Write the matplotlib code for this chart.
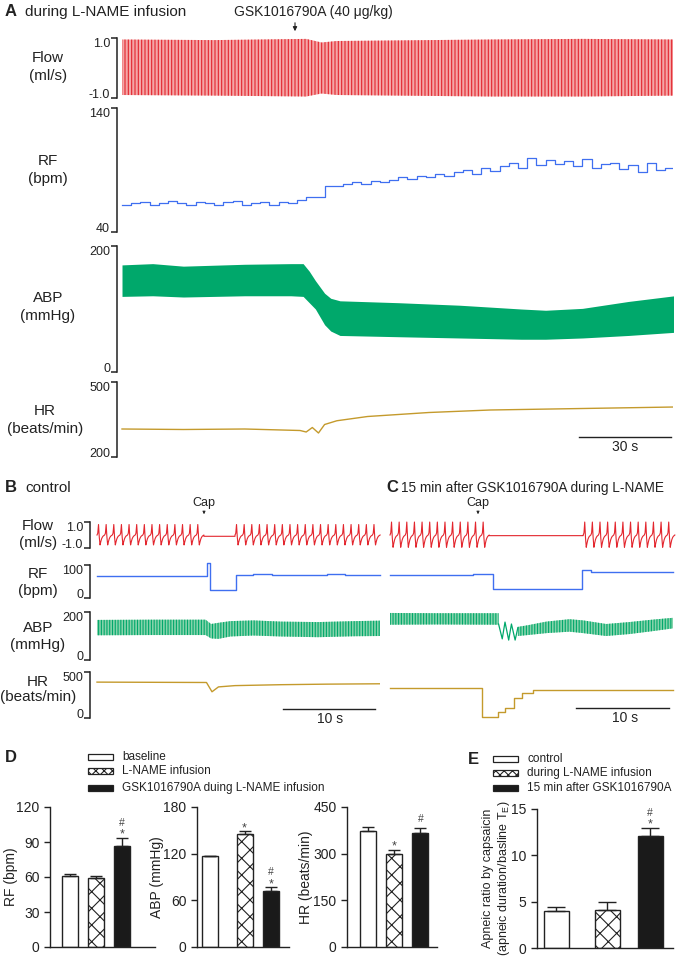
import numpy as np
import matplotlib
matplotlib.use("Agg")
import matplotlib.pyplot as plt
from matplotlib.patches import Rectangle

plt.rcParams['font.family'] = ['Liberation Sans', 'DejaVu Sans']
plt.rcParams['hatch.linewidth'] = 0.8

W, H = 680, 964

# ---------------- panel A (time in s) ----------------
flow_a_t = [0, 30, 60, 65, 70, 90, 120, 150, 180]
flow_a_up = [0.95, 0.93, 0.97, 0.85, 0.90, 0.92, 0.95, 0.97, 0.95]
flow_a_lo = [-0.90, -0.92, -0.95, -0.85, -0.90, -0.92, -0.95, -0.95, -0.92]

rf_a_v = [62, 63, 64, 62, 63, 65, 63, 62, 64, 63, 62, 64, 65, 62, 63, 64, 62, 64, 63,
          66, 68, 68, 77, 77,
          79, 80, 79, 81, 80, 82,
          84, 83, 85, 84, 87, 85,
          88, 90, 87, 92, 89, 93,
          96, 92, 100, 94, 98, 95,
          97, 93, 99, 92, 95, 96,
          91, 94, 88, 96, 90, 92]
rf_a_step = 3.0

abp_a_t = [0, 10, 20, 40, 55, 59, 61, 63, 66, 68, 71, 90, 110, 130, 138, 150, 165, 180]
abp_a_up = [170, 172, 168, 171, 172, 172, 160, 145, 125, 117, 113, 110, 106, 100, 98, 101, 112, 121]
abp_a_lo = [120, 121, 119, 121, 121, 120, 110, 100, 75, 65, 58, 56, 54, 52, 52, 54, 58, 63]

hr_a_t = [0, 20, 40, 58, 60, 62, 64, 66, 70, 80, 100, 120, 140, 160, 180]
hr_a_v = [312, 310, 312, 306, 300, 318, 296, 330, 345, 362, 378, 388, 392, 396, 400]

# ---------------- panels B / C ----------------
flow_cycle = [0.0, 0.15, 0.95, -0.2, -0.9, -0.6, -0.35, -0.2, -0.1, -0.05, 0.0]
flow_b_segments = [(0.0, 12.0), (15.0, 30.8)]
flow_b_period, flow_b_amp, flow_b_apnea = 0.83, 0.85, -0.1
flow_c_segments = [(0.0, 11.2), (21.0, 30.8)]
flow_c_period, flow_c_amp, flow_c_apnea = 0.83, 1.05, -0.05

rf_b_t = [0, 2, 4, 6, 8, 10, 12.0, 12.25, 15.1, 17, 19, 21, 23, 25, 27, 29, 30.8]
rf_b_v = [66, 67, 68, 67, 66, 68, 105, 24, 70, 72, 70, 71, 70, 72, 71, 70, 70]
rf_c_t = [0, 3, 6, 9, 11.2, 20.9, 21.8, 24, 27, 30.8]
rf_c_v = [70, 71, 70, 72, 27, 86, 80, 79, 80, 80]

abp_b_t = [0, 6, 11.8, 12.4, 13.2, 14.5, 17, 20, 24, 28, 30.8]
abp_b_up = [167, 168, 168, 150, 155, 162, 165, 160, 158, 162, 164]
abp_b_lo = [103, 104, 104, 90, 88, 98, 102, 98, 95, 99, 100]
abp_c_t1 = [0, 5, 11.8]
abp_c_up1 = [196, 195, 195]
abp_c_lo1 = [147, 148, 147]
abp_c_osc_t = [11.8, 12.2, 12.5, 12.9, 13.2, 13.6, 13.9]
abp_c_osc_v = [150, 88, 158, 83, 150, 83, 135]
abp_c_t2 = [13.9, 15, 17, 19.5, 21, 23.5, 26, 28.5, 30.8]
abp_c_up2 = [138, 145, 160, 170, 165, 150, 158, 168, 176]
abp_c_lo2 = [100, 104, 112, 118, 112, 100, 108, 120, 132]

hr_b_t = [0, 6, 11.9, 12.5, 13.2, 15, 20, 25, 30.8]
hr_b_v = [390, 388, 386, 285, 338, 352, 362, 368, 372]
hr_c_t = [0, 3, 6, 9, 10.0, 11.7, 12.5, 13.5, 14.3, 15.5, 20, 25, 30.8]
hr_c_v = [326, 330, 324, 328, 10, 65, 109, 217, 272, 300, 305, 302, 306]

# ---------------- panels D / E ----------------
groups_d = ['baseline', 'L-NAME infusion', 'GSK1016790A duing L-NAME infusion']
groups_e = ['control', 'during L-NAME infusion', '15 min after GSK1016790A']
rf_mean, rf_err = [61, 59.5, 87], [1.5, 1.5, 6.5]
abp_mean, abp_err = [116.5, 145.5, 72.5], [0.8, 3.5, 4.5]
hr_mean, hr_err = [374, 300, 367], [12, 12, 15]
apnea_mean, apnea_err = [4.0, 4.15, 12.1], [0.4, 0.8, 0.9]
rf_marks = ['', '', '#*']
abp_marks = ['', '*', '#*']
hr_marks = ['', '*', '#']
apnea_marks = ['', '', '#*']

RED, RED_L = '#e3262e', '#f4a6a6'
BLUE = '#3f6ff0'
GREEN, GREEN_L = '#00a86b', '#86d3ab'
GOLD = '#c49a2c'
INK = '#222222'

fig = plt.figure(figsize=(W / 100, H / 100), dpi=100)


def add_ax(x0, y0, x1, y1):
    return fig.add_axes([x0 / W, 1 - y1 / H, (x1 - x0) / W, (y1 - y0) / H])


def trace_style(ax, lo, hi, labels, xlim, fs=9):
    for s in ['top', 'right', 'bottom']:
        ax.spines[s].set_visible(False)
    ax.spines['left'].set_linewidth(1.1)
    ax.spines['left'].set_color(INK)
    ax.set_ylim(lo, hi)
    ax.set_yticks([lo, hi])
    ax.set_yticklabels(labels, fontsize=fs)
    tl = ax.get_yticklabels()
    tl[0].set_va('baseline')
    tl[1].set_va('top')
    ax.tick_params(axis='y', direction='out', length=4, width=1.1, pad=1, colors=INK)
    ax.set_xticks([])
    ax.set_xlim(*xlim)
    ax.patch.set_visible(False)


def blank_style(ax, lo, hi, xlim):
    ax.axis('off')
    ax.set_ylim(lo, hi)
    ax.set_xlim(*xlim)


def breath_train(segments, period, amp, apnea):
    ts, vs = [], []
    cyc = np.array(flow_cycle) * amp
    ph = np.linspace(0, 1, len(cyc))
    for k, (a, b) in enumerate(segments):
        starts = np.arange(a, b - period * 0.5, period)
        for s in starts:
            ts.extend(s + ph * period)
            vs.extend(cyc)
        if k < len(segments) - 1:
            ts.extend([starts[-1] + period, segments[k + 1][0]])
            vs.extend([apnea, apnea])
    return ts, vs


# ---------------- panel A ----------------
xa = (-1.63, 179.5)
ax = add_ax(117, 38, 673, 98)
trace_style(ax, -1.0, 1.0, ['-1.0', '1.0'], xa)
ax.fill_between(flow_a_t, flow_a_lo, flow_a_up, facecolor=RED_L, edgecolor=RED,
                hatch='|||||', linewidth=0)

ax = add_ax(117, 108, 673, 232)
trace_style(ax, 40, 140, ['40', '140'], xa)
rf_t = np.arange(len(rf_a_v) + 1) * rf_a_step
ax.step(rf_t, rf_a_v + [rf_a_v[-1]], where='post', color=BLUE, lw=0.9)

ax = add_ax(117, 246, 673, 372)
trace_style(ax, 0, 200, ['0', '200'], xa)
ax.fill_between(abp_a_t, abp_a_lo, abp_a_up, color=GREEN, linewidth=0)

ax = add_ax(117, 382, 673, 457)
trace_style(ax, 200, 500, ['200', '500'], xa)
ax.plot(hr_a_t, hr_a_v, color=GOLD, lw=1.0)

# ---------------- panels B / C ----------------
xb = (-0.76, 30.76)
xc = (0, 30.76)
rows = [(522, 548, -1.0, 1.0, ['-1.0', '1.0']),
        (565, 598, 0, 100, ['0', '100']),
        (612, 660, 0, 200, ['0', '200']),
        (672, 718, 0, 500, ['0', '500'])]
axb, axc = [], []
for y0, y1, lo, hi, lab in rows:
    a = add_ax(90, y0, 380, y1)
    trace_style(a, lo, hi, lab, xb)
    axb.append(a)
    c = add_ax(390, y0, 673, y1)
    blank_style(c, lo, hi, xc)
    axc.append(c)

t, v = breath_train(flow_b_segments, flow_b_period, flow_b_amp, flow_b_apnea)
axb[0].plot(t, v, color=RED, lw=0.8, clip_on=False)
t, v = breath_train(flow_c_segments, flow_c_period, flow_c_amp, flow_c_apnea)
axc[0].plot(t, v, color=RED, lw=0.8, clip_on=False)

axb[1].step(rf_b_t, rf_b_v, where='post', color=BLUE, lw=1.0, clip_on=False)
axc[1].step(rf_c_t, rf_c_v, where='post', color=BLUE, lw=1.0, clip_on=False)

axb[2].fill_between(abp_b_t, abp_b_lo, abp_b_up, facecolor=GREEN_L, edgecolor=GREEN,
                    hatch='||||||', linewidth=0)
axc[2].fill_between(abp_c_t1, abp_c_lo1, abp_c_up1, facecolor=GREEN_L, edgecolor=GREEN,
                    hatch='||||||', linewidth=0, clip_on=False)
axc[2].plot(abp_c_osc_t, abp_c_osc_v, color=GREEN, lw=0.9)
axc[2].fill_between(abp_c_t2, abp_c_lo2, abp_c_up2, facecolor=GREEN_L, edgecolor=GREEN,
                    hatch='||||||', linewidth=0)

axb[3].plot(hr_b_t, hr_b_v, color=GOLD, lw=1.0)
axc[3].step(hr_c_t, hr_c_v, where='post', color=GOLD, lw=1.0, clip_on=False)

# ---------------- panels D / E ----------------
def bar_panel(x0, y0, x1, y1, centers, width, means, errs, marks, ymax, ticks):
    a = add_ax(x0, y0, x1, y1)
    pos = [c - x0 for c in centers]
    styles = [dict(color='white', hatch=None), dict(color='white', hatch='xx'),
              dict(color='#1a1a1a', hatch=None)]
    for p, m, e, st in zip(pos, means, errs, styles):
        a.bar(p, m, width=width, facecolor=st['color'], edgecolor=INK, hatch=st['hatch'],
              linewidth=1.0, zorder=2)
        a.errorbar(p, m, yerr=[[0], [e]], color=INK, lw=1.0, capsize=width * 0.72 * 0.36,
                   capthick=1.0, zorder=3)
    for p, m, e, mk in zip(pos, means, errs, marks):
        if '*' in mk:
            a.annotate('*', (p, m + e), xytext=(0, 0), textcoords='offset pixels',
                       ha='center', va='baseline', fontsize=9, color='#444444')
        if '#' in mk:
            off = 12 if '*' in mk else 6
            a.annotate('#', (p, m + e), xytext=(0, off), textcoords='offset pixels',
                       ha='center', va='baseline', fontsize=7.5, color='#444444')
    a.set_xlim(0, x1 - x0)
    a.set_ylim(0, ymax)
    a.set_yticks(ticks)
    a.set_xticks([])
    for s in ['top', 'right']:
        a.spines[s].set_visible(False)
    for s in ['left', 'bottom']:
        a.spines[s].set_linewidth(1.0)
        a.spines[s].set_color(INK)
    a.tick_params(axis='y', direction='out', length=4, width=1.0, labelsize=10, colors=INK)
    a.patch.set_visible(False)
    return a


bar_panel(50, 807, 155, 947, [69.5, 95.5, 122], 16, rf_mean, rf_err, rf_marks,
          120, [0, 30, 60, 90, 120])
bar_panel(197, 807, 289, 947, [209.5, 244.5, 271], 16, abp_mean, abp_err, abp_marks,
          180, [0, 60, 120, 180])
bar_panel(347, 807, 437, 947, [368, 394, 420.5], 16, hr_mean, hr_err, hr_marks,
          450, [0, 150, 300, 450])
bar_panel(537, 809, 673, 948, [556, 607, 650], 25, apnea_mean, apnea_err, apnea_marks,
          15, [0, 5, 10, 15])

# ---------------- overlay: labels, scale bars, legends ----------------
ov = fig.add_axes([0, 0, 1, 1])
ov.set_xlim(0, W)
ov.set_ylim(H, 0)
ov.axis('off')
ov.patch.set_visible(False)

def label(x, y, s, size=11, **kw):
    ov.text(x, y, s, fontsize=size, ha=kw.pop('ha', 'center'), va=kw.pop('va', 'center'),
            color=kw.pop('color', INK), **kw)

def label2(x, y, top, bottom, size=11, gap=18):
    label(x, y - gap / 2, top, size)
    label(x, y + gap / 2, bottom, size)

label(5, 12, 'A', 12, ha='left', weight='bold')
label(25, 12, 'during L-NAME infusion', 11, ha='left')
label(313, 12, 'GSK1016790A (40 \u03bcg/kg)', 10)
ov.annotate('', xy=(295, 34), xytext=(295, 20),
            arrowprops=dict(arrowstyle='-|>', lw=0.8, color=INK, mutation_scale=6))

label2(48, 67, 'Flow', '(ml/s)')
label2(48, 170, 'RF', '(bpm)')
label2(48, 307, 'ABP', '(mmHg)')
label2(45, 420, 'HR', '(beats/min)')

ov.plot([579, 671], [437, 437], color=INK, lw=1.0)
label(625, 447, '30 s', 10)

label(5, 488, 'B', 12, ha='left', weight='bold')
label(25, 488, 'control', 11, ha='left')
label(386, 488, 'C', 12, ha='left', weight='bold')
label(401, 488, '15 min after GSK1016790A during L-NAME', 9.8, ha='left')

for cx in (204, 478):
    label(cx, 503, 'Cap', 9)
    ov.annotate('', xy=(cx, 517), xytext=(cx, 509),
                arrowprops=dict(arrowstyle='-|>', lw=0.6, color=INK, mutation_scale=4))

label2(38, 535, 'Flow', '(ml/s)', gap=17)
label2(38, 582, 'RF', '(bpm)', gap=17)
label2(38, 636, 'ABP', '(mmHg)', gap=17)
label2(38, 690, 'HR', '(beats/min)', gap=15)

ov.plot([283, 375], [709, 709], color=INK, lw=1.0)
label(330, 719, '10 s', 10)
ov.plot([576, 669], [708, 708], color=INK, lw=1.0)
label(625, 718, '10 s', 10)

label(5, 757, 'D', 12, ha='left', weight='bold')
label(468, 759, 'E', 12, ha='left', weight='bold')

leg_styles = [('white', None), ('white', 'xxxx'), ('#1a1a1a', None)]
for x0, tx, ys, names in [(88, 122, [757, 771, 788], groups_d),
                          (493, 527, [759, 773, 788], groups_e)]:
    for y, name, (fc, hat) in zip(ys, names, leg_styles):
        ov.add_patch(Rectangle((x0, y - 3), 25, 6, facecolor=fc, edgecolor=INK,
                               hatch=hat, lw=0.9))
        label(tx, y, name, 8.5, ha='left')

label(11, 877, 'RF (bpm)', 10, rotation=90)
label(157, 877, 'ABP (mmHg)', 10, rotation=90)
label(306, 877, 'HR (beats/min)', 10, rotation=90)
label(488, 878, 'Apneic ratio by capsaicin', 9, rotation=90)
label(504, 878, '(apneic duration/basline T$_\\mathregular{E}$)', 9, rotation=90)

fig.savefig('out.png', dpi=100)
